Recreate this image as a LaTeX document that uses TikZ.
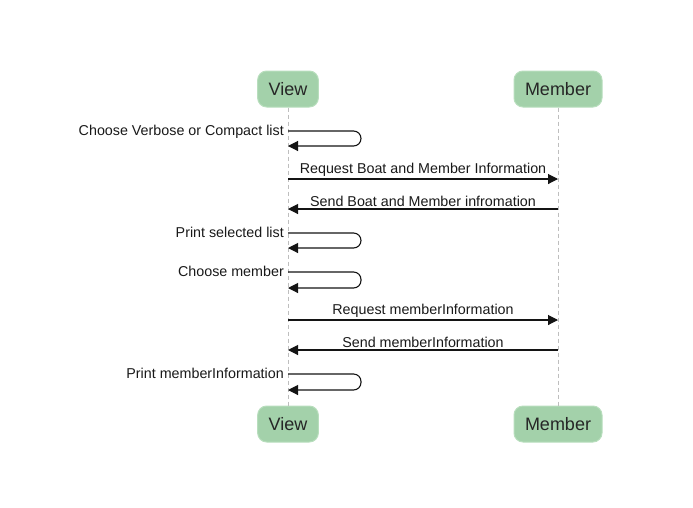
\documentclass[tikz,border=0pt]{standalone}
\usepackage{fontspec}
\setmainfont{Liberation Sans}
\usepackage{xcolor}
\usetikzlibrary{arrows.meta}
\definecolor{headgreen}{RGB}{163,209,170}
\definecolor{headline}{RGB}{184,222,189}
\definecolor{lifegray}{RGB}{190,190,190}
\definecolor{msgblack}{RGB}{20,20,20}

\begin{document}
\begin{tikzpicture}[x=1pt,y=-1pt,
	head/.style={draw=headline,fill=headgreen,rounded corners=9pt,line width=1pt,
		minimum height=36pt,inner xsep=11pt,font=\fontsize{18}{20}\selectfont,text=black!85},
	life/.style={draw=lifegray,dashed,dash pattern=on 4pt off 3pt,line width=0.8pt},
	msg/.style={draw=msgblack,line width=1.1pt,-{Triangle[length=10pt,width=10pt]}},
	label/.style={font=\fontsize{14.3}{16}\selectfont,inner sep=1pt,text=black!90}]
\useasboundingbox (0,0) rectangle (693,507);

% lifeline heads
\node [head] (V1) at (288,89) {View};
\node [head] (M1) at (558,89) {Member};
\node [head] (V2) at (288,424) {View};
\node [head] (M2) at (558,424) {Member};

\draw [life] (V1) -- (V2);
\draw [life] (M1) -- (M2);

% message ends
\coordinate (a1) at (288,131); \coordinate (a2) at (288,146);
\coordinate (b1) at (288,179); \coordinate (b2) at (558,179);
\coordinate (c1) at (558,209); \coordinate (c2) at (288,209);
\coordinate (d1) at (288,233); \coordinate (d2) at (288,248);
\coordinate (e1) at (288,272); \coordinate (e2) at (288,288);
\coordinate (f1) at (288,320); \coordinate (f2) at (558,320);
\coordinate (g1) at (558,350); \coordinate (g2) at (288,350);
\coordinate (h1) at (288,374); \coordinate (h2) at (288,390);

% self calls
\draw [msg,rounded corners=7.5pt] (a1) -| ++(73,15) -- (a2);
\node [label,anchor=base east] at ([xshift=-3pt,yshift=-4pt]a1) {Choose Verbose or Compact list};
\draw [msg,rounded corners=7.5pt] (d1) -| ++(73,15) -- (d2);
\node [label,anchor=base east] at ([xshift=-3pt,yshift=-4pt]d1) {Print selected list};
\draw [msg,rounded corners=7.5pt] (e1) -| ++(73,16) -- (e2);
\node [label,anchor=base east] at ([xshift=-3pt,yshift=-4pt]e1) {Choose member};
\draw [msg,rounded corners=7.5pt] (h1) -| ++(73,16) -- (h2);
\node [label,anchor=base east] at ([xshift=-3pt,yshift=-4pt]h1) {Print memberInformation};

% calls between lifelines
\draw [msg] (b1) -- node [label,above=0.5pt] {Request Boat and Member Information} (b2);
\draw [msg] (c1) -- node [label,above=0.5pt] {Send Boat and Member infromation} (c2);
\draw [msg] (f1) -- node [label,above=0.5pt] {Request memberInformation} (f2);
\draw [msg] (g1) -- node [label,above=0.5pt] {Send memberInformation} (g2);
\end{tikzpicture}
\end{document}
